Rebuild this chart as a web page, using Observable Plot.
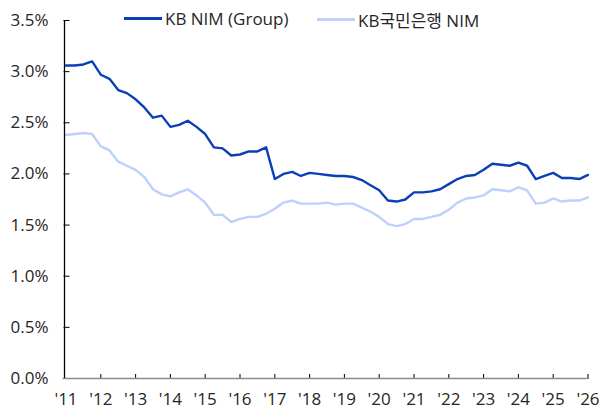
<!DOCTYPE html>
<html>
<head>
<meta charset="utf-8">
<script src="https://cdn.jsdelivr.net/npm/d3@7"></script>
<script src="https://cdn.jsdelivr.net/npm/@observablehq/plot@0.6"></script>
<style>
  html, body { margin: 0; padding: 0; background: #fff; }
  #wrap { position: relative; width: 600px; height: 411px; }
  .leg { position: absolute; top: 7px; font: 17px "Open Sans", "Noto Sans CJK KR", sans-serif; color: #262626; display: flex; align-items: center; white-space: nowrap; }
  .leg span.sw { display: inline-block; width: 38px; height: 2.5px; margin-right: 3px; }
</style>
</head>
<body>
<div id="wrap"></div>
<script>
// Quarterly NIM (%), 1Q11 .. 1Q26
const seriesNames = ["KB NIM (Group)", "KB국민은행 NIM"];
const seriesColors = ["#0b3fb8", "#bcd1fb"];
const nimGroup = [3.06, 3.06, 3.07, 3.10, 2.97, 2.93, 2.82, 2.79, 2.73, 2.65,
  2.55, 2.57, 2.46, 2.48, 2.52, 2.46, 2.39, 2.26, 2.25, 2.18,
  2.19, 2.22, 2.22, 2.26, 1.95, 2.00, 2.02, 1.98, 2.01, 2.00,
  1.99, 1.98, 1.98, 1.97, 1.94, 1.89, 1.84, 1.74, 1.73, 1.75,
  1.82, 1.82, 1.83, 1.85, 1.90, 1.95, 1.98, 1.99, 2.04, 2.10,
  2.09, 2.08, 2.11, 2.08, 1.95, 1.98, 2.01, 1.96, 1.96, 1.95, 1.99];
const nimBank = [2.38, 2.39, 2.40, 2.39, 2.27, 2.23, 2.12, 2.08, 2.04, 1.97,
  1.85, 1.80, 1.78, 1.82, 1.85, 1.79, 1.72, 1.60, 1.60, 1.53,
  1.56, 1.58, 1.58, 1.61, 1.66, 1.72, 1.74, 1.71, 1.71, 1.71,
  1.72, 1.70, 1.71, 1.71, 1.67, 1.63, 1.58, 1.51, 1.49, 1.51,
  1.56, 1.56, 1.58, 1.60, 1.65, 1.72, 1.76, 1.77, 1.79, 1.85,
  1.84, 1.83, 1.87, 1.84, 1.71, 1.72, 1.76, 1.73, 1.74, 1.74, 1.77];
const yearLabels = ["'11","'12","'13","'14","'15","'16","'17","'18","'19","'20","'21","'22","'23","'24","'25","'26"];
const yTicks = [0, 0.5, 1.0, 1.5, 2.0, 2.5, 3.0, 3.5];

const rows = [
  ...nimGroup.map((v, i) => ({i, v, s: seriesNames[0]})),
  ...nimBank.map((v, i) => ({i, v, s: seriesNames[1]}))
];
const yearIdx = yearLabels.map((_, k) => k * 4);

const chart = Plot.plot({
  width: 600,
  height: 411,
  marginLeft: 64,
  marginRight: 12.5,
  marginTop: 20,
  marginBottom: 33,
  insetLeft: 1.5,
  style: {fontSize: "17px", fontFamily: "'Open Sans', 'Noto Sans CJK KR', sans-serif", color: "#262626", background: "#fff"},
  x: {domain: [0, nimGroup.length - 1]},
  y: {domain: [0, 3.5]},
  color: {domain: seriesNames, range: seriesColors},
  marks: [
    Plot.axisY({ticks: yTicks, tickSize: 0, tickPadding: 16, tickFormat: d => d.toFixed(1) + "%", label: null}),
    Plot.axisY({ticks: yTicks, anchor: "right", frameAnchor: "left", tickSize: 6, tickFormat: () => "", label: null, stroke: "#000", dx: -1.5}),
    Plot.axisX({ticks: yearIdx, tickSize: 0, tickPadding: 14, tickFormat: i => yearLabels[i / 4], label: null}),
    Plot.axisX({ticks: yearIdx.slice(1), anchor: "top", frameAnchor: "bottom", tickSize: 5, tickFormat: () => "", label: null, stroke: "#000"}),
    Plot.line(rows.filter(d => d.s === seriesNames[1]), {x: "i", y: "v", stroke: "s", strokeWidth: 2.4, strokeLinejoin: "round"}),
    Plot.line(rows.filter(d => d.s === seriesNames[0]), {x: "i", y: "v", stroke: "s", strokeWidth: 2.4, strokeLinejoin: "round"}),
    Plot.ruleY([0], {stroke: "#8c8c8c", strokeWidth: 1.5, insetLeft: -1.5}),
    Plot.ruleX([0], {stroke: "#000", strokeWidth: 1.3, dx: -1.5})
  ]
});

const wrap = document.getElementById("wrap");
wrap.appendChild(chart);
const legPos = [124, 317];
seriesNames.forEach((name, k) => {
  const d = document.createElement("div");
  d.className = "leg";
  d.style.left = legPos[k] + "px";
  d.innerHTML = `<span class="sw" style="background:${seriesColors[k]}"></span>`;
  d.appendChild(document.createTextNode(name));
  wrap.appendChild(d);
});
</script>
</body>
</html>
